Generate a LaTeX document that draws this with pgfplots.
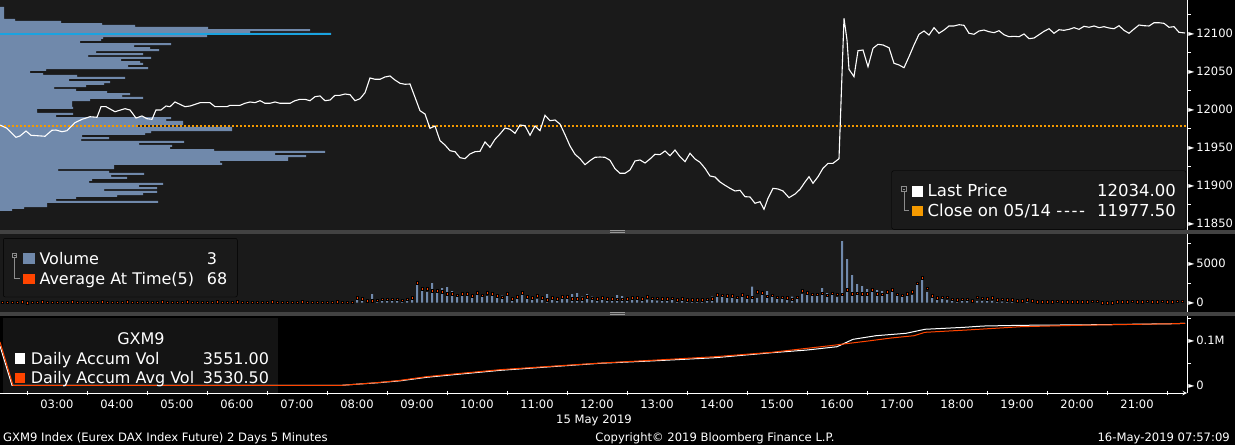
\documentclass[border=0pt]{standalone}
\usepackage{fontspec}
\setmainfont{DejaVu Sans}
\usepackage{pgfplots}
\pgfplotsset{compat=1.18}
\definecolor{panel}{HTML}{1A1A1A}
\definecolor{sepgray}{HTML}{424242}
\definecolor{slate}{HTML}{7089AB}
\definecolor{amber}{HTML}{F59A00}
\definecolor{redor}{HTML}{FF4500}
\definecolor{poc}{HTML}{1AA3E0}
\definecolor{legbg}{HTML}{141414}
\definecolor{treeg}{HTML}{8C8C8C}
\newcommand\tri{\raisebox{1.3pt}{\fontsize{8}{8}\selectfont ►}\hspace{1.8pt}}
\newcommand\tickf{\fontsize{11.5}{13}\selectfont}
\newcommand\footf{\fontsize{11.6}{13}\selectfont}
\newcommand\legf{\fontsize{16}{19}\selectfont}
\newcommand\toplegf{\fontsize{16.5}{19}\selectfont}
\pgfplotsset{
  bbg/.style={scale only axis, width=1187pt, anchor=south west, xmin=123, xmax=1310,
    axis y line=right, axis line style={-, white, line width=1pt},
    scaled ticks=false,
    major tick length=0pt, minor tick length=3.5pt, tick align=outside,
    every minor tick/.append style={white, line width=0.8pt},
    yticklabel style={anchor=west, inner sep=0pt, xshift=1.2pt, text=white, font=\tickf}},
}
\begin{document}
\begin{tikzpicture}
\useasboundingbox (0pt,0pt) rectangle (1235pt,-445pt);
\fill[black] (0pt,0pt) rectangle (1235pt,-445pt);
\fill[panel] (0pt,0pt) rectangle (1187pt,-229.5pt);
\fill[panel] (0pt,-233.5pt) rectangle (1187pt,-311.5pt);
\fill[sepgray] (0pt,-229.5pt) rectangle (1235pt,-233.5pt);
\fill[sepgray] (0pt,-311.5pt) rectangle (1235pt,-315.5pt);
\draw[gray!80, line width=0.7pt] (610pt,-230.7pt) -- (625pt,-230.7pt) (610pt,-232.3pt) -- (625pt,-232.3pt);
\draw[gray!80, line width=0.7pt] (610pt,-312.7pt) -- (625pt,-312.7pt) (610pt,-314.3pt) -- (625pt,-314.3pt);

% ---------- volume profile (top panel) ----------
\begin{axis}[scale only axis, width=1187pt, height=229.5pt, anchor=south west, at={(0pt,-229.5pt)},
  xmin=0, xmax=1187, ymin=11841.8, ymax=12143.8, hide axis]
\addplot[xbar, bar width=2.63, fill=slate, draw=none] table {
len price
4 12133.3
4 12130.6
4 12128.0
4 12125.4
4 12122.7
4 12120.1
15 12117.5
61 12114.9
102 12112.2
135 12109.6
208 12107.0
310 12104.3
250 12101.7
331 12099.1
207 12096.4
103 12093.8
101 12091.2
80 12088.5
171 12085.9
134 12083.3
150 12080.6
159 12078.0
96 12075.4
143 12072.7
88 12070.1
151 12067.5
121 12064.9
140 12062.2
143 12059.6
128 12057.0
148 12054.3
46 12051.7
30 12049.1
43 12046.4
77 12043.8
125 12041.2
69 12038.5
110 12035.9
104 12033.3
86 12030.6
54 12028.0
76 12025.4
107 12022.7
130 12020.1
122 12017.5
143 12014.9
90 12012.2
72 12009.6
72 12007.0
72 12004.3
73 12001.7
37 11999.1
37 11996.4
73 11993.8
56 11991.2
171 11988.5
166 11985.9
183 11983.3
183 11980.6
137 11978.0
232 11975.4
232 11972.7
151 11970.1
145 11967.5
82 11964.9
109 11962.2
81 11959.6
184 11957.0
139 11954.3
172 11951.7
170 11949.1
214 11946.4
325 11943.8
275 11941.2
306 11938.5
288 11935.9
288 11933.3
220 11930.6
222 11928.0
114 11925.4
114 11922.7
58 11920.1
109 11917.5
144 11914.9
111 11912.2
127 11909.6
92 11907.0
89 11904.3
163 11901.7
139 11899.1
157 11896.4
104 11893.8
157 11891.2
143 11888.5
117 11885.9
76 11883.3
56 11880.6
158 11878.0
47 11875.4
47 11872.7
24 11870.1
12 11867.5
};
\addplot[poc, line width=2pt] coordinates {(0,12099.1) (331,12099.1)};
\end{axis}

% ---------- price panel ----------
\begin{axis}[bbg, at={(0pt,-229.5pt)}, height=229.5pt, axis x line=none,
  ymin=11841.8, ymax=12143.8,
  ytick={11850,11900,11950,12000,12050,12100},
  yticklabels={\tri 11850,\tri 11900,\tri 11950,\tri 12000,\tri 12050,\tri 12100},
  minor ytick={11875,11925,11975,12025,12075,12125}]
\addplot[amber, line width=1.9pt, dash pattern=on 2pt off 2pt] coordinates {(123,11977.5) (1310,11977.5)};
\addplot[white, line width=1.1pt] table {
t p
123 11979.3
130 11975.0
139 11963.1
143 11964.9
149 11971.4
154 11965.8
168 11964.5
175 11972.4
179 11972.7
185 11970.5
190 11971.8
198 11982.4
205 11986.8
213 11990.2
220 11989.5
224 12003.4
229 12003.4
238 11996.8
248 12000.8
253 11999.1
259 11988.5
265 11991.2
270 11987.6
275 11986.8
279 11999.1
284 11999.1
289 12004.3
293 12003.4
298 12009.6
308 12003.4
313 12004.3
323 12008.7
333 12008.7
338 12003.4
350 12003.4
353 12005.2
363 12005.2
368 12007.9
373 12009.6
378 12008.7
383 12011.3
388 12007.9
393 12007.9
398 12009.6
403 12007.9
413 12007.9
418 12011.3
423 12013.1
428 12013.1
433 12011.3
438 12016.6
443 12017.5
448 12011.3
453 12012.2
458 12018.4
463 12018.4
468 12020.1
473 12019.2
478 12011.3
483 12013.9
488 12021.8
493 12041.2
498 12039.5
503 12039.5
508 12042.5
513 12043.8
518 12038.5
523 12034.2
528 12032.9
533 12033.3
538 12015.8
543 11998.1
548 11993.8
553 11975.0
558 11978.0
563 11958.7
568 11953.0
573 11945.5
578 11944.2
583 11936.3
588 11935.0
593 11941.2
598 11944.2
603 11944.7
608 11957.0
613 11950.0
618 11960.5
623 11967.5
628 11975.4
633 11973.7
638 11968.4
643 11979.3
648 11978.4
653 11965.8
658 11978.0
663 11971.8
668 11992.1
673 11985.0
678 11985.9
683 11980.6
688 11966.6
693 11951.7
698 11940.8
703 11935.0
708 11927.1
713 11932.4
718 11936.8
723 11937.2
728 11936.8
733 11932.9
738 11921.8
743 11915.8
748 11915.8
753 11920.1
758 11932.0
763 11933.3
768 11929.3
773 11934.6
778 11940.8
783 11940.3
788 11945.1
793 11938.9
798 11946.4
803 11937.6
808 11931.0
813 11942.1
818 11934.6
823 11930.2
828 11922.3
833 11912.2
838 11910.9
843 11904.3
848 11900.0
853 11896.0
858 11892.5
863 11893.4
868 11885.0
873 11884.6
878 11876.3
883 11878.4
887 11868.4
891 11882.9
896 11896.0
901 11895.1
906 11892.5
912 11883.7
918 11888.5
923 11894.7
928 11904.3
932 11911.3
936 11902.6
941 11911.3
946 11922.4
951 11928.9
956 11928.9
962 11935.0
967 12119.7
970 12091.2
972 12052.6
977 12042.9
981 12077.1
986 12078.0
991 12056.0
996 12080.2
1001 12085.5
1006 12084.6
1012 12081.0
1017 12060.5
1022 12058.3
1027 12054.7
1032 12069.2
1037 12084.6
1042 12098.7
1047 12103.0
1052 12097.7
1057 12107.4
1062 12100.0
1067 12104.3
1072 12109.6
1077 12109.6
1082 12111.3
1087 12110.5
1092 12100.0
1097 12098.7
1102 12103.0
1107 12104.3
1112 12102.1
1117 12100.8
1122 12103.4
1127 12098.1
1132 12095.5
1137 12096.0
1142 12095.5
1147 12099.1
1152 12092.9
1157 12093.8
1162 12098.1
1167 12102.6
1172 12106.0
1177 12100.0
1182 12104.7
1187 12103.9
1192 12105.2
1197 12107.4
1202 12105.2
1207 12109.2
1212 12107.9
1217 12109.6
1222 12107.4
1227 12108.7
1232 12107.0
1237 12106.0
1242 12110.0
1247 12103.9
1252 12100.0
1257 12105.6
1262 12110.9
1267 12110.0
1272 12109.6
1277 12113.9
1282 12113.9
1287 12113.1
1292 12107.9
1297 12108.7
1302 12101.3
1308 12100.4
};
\end{axis}

% ---------- volume panel ----------
\begin{axis}[bbg, at={(0pt,-311.5pt)}, height=78pt, axis x line=none,
  ymin=-1117, ymax=8781,
  ytick={0,5000}, yticklabels={\tri 0,\tri 5000}, minor ytick={2500,7500}]
\addplot[ybar, bar width=2, fill=slate, draw=none] table {
t v
480 486
485 486
490 444
495 1079
500 275
505 402
510 275
515 275
520 275
525 275
530 444
535 571
540 2390
545 1840
550 1332
555 2475
560 1544
565 1840
570 1967
575 1459
580 1036
585 867
590 1121
595 1036
600 1248
605 1079
610 825
615 1121
620 613
625 909
630 1206
635 402
640 571
645 1332
650 613
655 698
660 486
665 317
670 1079
675 486
680 486
685 486
690 571
695 1079
700 1206
705 783
710 1079
715 783
720 486
725 317
730 360
735 486
740 952
745 825
750 486
755 571
760 571
765 275
770 402
775 317
780 275
785 529
790 486
795 529
800 360
805 444
810 317
815 317
820 317
825 317
830 402
835 783
840 1206
845 825
850 825
855 571
860 656
865 1121
870 825
875 2052
880 571
885 1206
890 1459
895 867
900 613
905 613
910 783
915 783
920 571
925 1079
930 1206
935 1206
940 1206
945 1840
950 1206
955 1332
960 698
965 7804
970 5520
975 3500
980 2348
985 2094
990 1713
995 1586
1000 1586
1005 1459
1010 1417
1015 1332
1020 1079
1025 698
1030 1079
1035 952
1040 2601
1045 2898
1050 1332
1055 825
1060 571
1065 571
1070 317
1075 317
1080 275
1085 486
1090 529
1095 190
1100 190
1105 190
1110 190
1115 190
1120 106
1125 148
1130 275
1135 275
1140 275
1145 275
1150 275
1155 190
};
\addplot[only marks, mark=square*, mark size=1.25pt, mark options={fill=redor, draw=none}] table {
t a
125 60
130 90
135 40
140 70
145 100
150 30
155 80
160 60
165 110
170 50
175 70
180 90
185 40
190 60
195 120
200 80
205 50
210 70
215 90
220 60
225 100
230 40
235 80
240 60
245 70
250 110
255 50
260 90
265 60
270 80
275 40
280 70
285 100
290 60
295 90
300 50
305 80
310 120
315 60
320 70
325 40
330 90
335 60
340 100
345 80
350 50
355 70
360 110
365 60
370 90
375 40
380 80
385 70
390 60
395 100
400 50
405 90
410 70
415 60
420 80
425 110
430 40
435 70
440 90
445 60
450 80
455 50
460 100
465 70
470 60
475 90
480 656
485 529
490 275
495 275
500 317
505 444
510 444
515 444
520 444
525 317
530 444
535 656
540 2559
545 1755
550 1755
555 1502
560 1544
565 1417
570 1121
575 1121
580 952
585 1121
590 1121
595 909
600 1248
605 952
610 1248
615 1121
620 867
625 698
630 1121
635 486
640 740
645 1248
650 740
655 613
660 909
665 613
670 402
675 613
680 486
685 740
690 740
695 486
700 486
705 529
710 783
715 571
720 529
725 613
730 486
735 529
740 444
745 444
750 486
755 613
760 613
765 486
770 740
775 571
780 571
785 486
790 529
795 571
800 402
805 486
810 402
815 402
820 402
825 402
830 444
835 529
840 994
845 952
850 867
855 867
860 698
865 1036
870 740
875 698
880 1375
885 1248
890 825
895 952
900 698
905 698
910 613
915 444
920 698
925 1502
930 1248
935 1079
940 1079
945 1206
950 952
955 1206
960 1079
965 1079
970 1629
975 1121
980 1206
985 1121
990 1121
995 1629
1000 1163
1005 1079
1010 1375
1015 1629
1020 1079
1025 952
1030 1163
1035 1375
1040 2475
1045 3151
1050 1840
1055 867
1060 613
1065 698
1070 698
1075 444
1080 360
1085 444
1090 444
1095 233
1100 698
1105 571
1110 486
1115 613
1120 360
1125 444
1130 360
1135 360
1140 233
1145 233
1150 360
1155 233
1160 106
1165 106
1170 106
1175 106
1180 190
1185 106
1190 106
1195 106
1200 106
1205 106
1210 106
1215 190
1220 190
1225 0
1230 0
1235 0
1240 106
1245 106
1250 106
1255 190
1260 106
1265 106
1270 190
1275 106
1280 106
1285 190
1290 106
1295 106
1300 190
1305 190
};
\end{axis}

% ---------- accumulated volume panel ----------
\fill[legbg] (3.3pt,-318.3pt) rectangle (278.3pt,-392.5pt);
\begin{axis}[bbg, at={(0pt,-393pt)}, height=77.5pt, axis x line=bottom,
  ymin=-17300, ymax=156500,
  ytick={0,100000}, yticklabels={\tri 0,\tri 0.1M}, minor ytick={50000,150000},
  xtick={180,240,...,1260},
  xticklabels={03:00,04:00,05:00,06:00,07:00,08:00,09:00,10:00,11:00,12:00,13:00,14:00,15:00,16:00,17:00,18:00,19:00,20:00,21:00},
  minor xtick={150,210,...,1290}, minor tick length=4pt,
  xticklabel style={anchor=base, inner sep=0pt, yshift=-15.2pt, text=white, font=\tickf}]
\addplot[white, line width=1pt] coordinates {
(123,88000) (135,0) (465,0) (480,2500) (500,5500) (523,10000) (550,18000) (580,24500)
(623,33500) (673,41500) (723,49300) (780,55200) (838,61900) (895,73100) (930,79100)
(960,86500) (976,103100) (999,111200) (1029,116600) (1048,125600) (1087,130000)
(1106,132900) (1144,134500) (1221,135900) (1297,138100) (1308,139000)};
\addplot[redor, line width=1pt] coordinates {
(123,97000) (136,0) (465,0) (480,2500) (500,6000) (523,11000) (550,19500) (580,26000)
(623,35000) (673,42500) (723,49800) (780,56700) (838,64100) (895,74000) (953,88800)
(964,91900) (991,99300) (1014,106000) (1037,111200) (1048,118800) (1090,124000)
(1144,131400) (1201,134500) (1297,138100) (1308,139000)};
\end{axis}

% ---------- legends ----------
\draw[black, fill=panel, rounded corners=2pt] (891.7pt,-170.7pt) rectangle (1186pt,-229.3pt);
\draw[treeg, line width=0.7pt] (901.7pt,-186.7pt) rectangle (906.3pt,-191.3pt);
\draw[treeg, line width=0.6pt] (902.7pt,-189pt) -- (905.3pt,-189pt);
\draw[treeg, line width=0.7pt] (904pt,-191.3pt) -- (904pt,-210pt) -- (909pt,-210pt);
\fill[white] (911.7pt,-186pt) rectangle (922.7pt,-196.5pt);
\fill[amber] (911.7pt,-205.7pt) rectangle (922.7pt,-216.2pt);
\node[anchor=base west, inner sep=0pt, text=white, font=\toplegf] at (927.5pt,-196pt) {Last Price};
\node[anchor=base east, inner sep=0pt, text=white, font=\toplegf] at (1176pt,-196pt) {12034.00};
\node[anchor=base west, inner sep=0pt, text=white, font=\toplegf] at (927.5pt,-216pt) {Close on 05/14 -\kern1.6pt-\kern1.6pt-\kern1.6pt-};
\node[anchor=base east, inner sep=0pt, text=white, font=\toplegf] at (1176pt,-216pt) {11977.50};

\draw[black, fill=panel, rounded corners=2pt] (3.3pt,-238.3pt) rectangle (237.3pt,-297pt);
\draw[treeg, line width=0.7pt] (12.7pt,-253.3pt) rectangle (16.7pt,-257.3pt);
\draw[treeg, line width=0.6pt] (13.6pt,-255.3pt) -- (15.8pt,-255.3pt);
\draw[treeg, line width=0.7pt] (14.7pt,-257.3pt) -- (14.7pt,-278.3pt) -- (20pt,-278.3pt);
\fill[slate] (23.3pt,-253.3pt) rectangle (34.7pt,-264.3pt);
\fill[redor] (23.3pt,-274pt) rectangle (34.7pt,-284.3pt);
\node[anchor=base west, inner sep=0pt, text=white, font=\legf] at (39.3pt,-264.3pt) {Volume};
\node[anchor=base west, inner sep=0pt, text=white, font=\legf] at (206.7pt,-264.3pt) {3};
\node[anchor=base west, inner sep=0pt, text=white, font=\legf] at (39.3pt,-284.3pt) {Average At Time(5)};
\node[anchor=base west, inner sep=0pt, text=white, font=\legf] at (206.7pt,-284.3pt) {68};

\node[anchor=base, inner sep=0pt, text=white, font=\legf] at (141pt,-344.3pt) {GXM9};
\fill[white] (15pt,-353.3pt) rectangle (25pt,-363.7pt);
\fill[redor] (15pt,-372.7pt) rectangle (25pt,-383pt);
\node[anchor=base west, inner sep=0pt, text=white, font=\legf] at (30.7pt,-364pt) {Daily Accum Vol};
\node[anchor=base east, inner sep=0pt, text=white, font=\legf] at (269.3pt,-364pt) {3551.00};
\node[anchor=base west, inner sep=0pt, text=white, font=\legf] at (30.7pt,-383.3pt) {Daily Accum Avg Vol};
\node[anchor=base east, inner sep=0pt, text=white, font=\legf] at (269.3pt,-383.3pt) {3530.50};

% ---------- footer ----------
\node[anchor=base, inner sep=0pt, text=white, font=\footf] at (594pt,-423.2pt) {15 May 2019};
\node[anchor=base west, inner sep=0pt, text=white, font=\footf] at (3pt,-441.2pt) {GXM9 Index (Eurex DAX Index Future) 2 Days 5 Minutes};
\node[anchor=base, inner sep=0pt, text=white, font=\footf] at (715pt,-441.2pt) {Copyright© 2019 Bloomberg Finance L.P.};
\node[anchor=base east, inner sep=0pt, text=white, font=\footf] at (1230pt,-441.2pt) {16-May-2019 07:57:09};
\end{tikzpicture}
\end{document}
